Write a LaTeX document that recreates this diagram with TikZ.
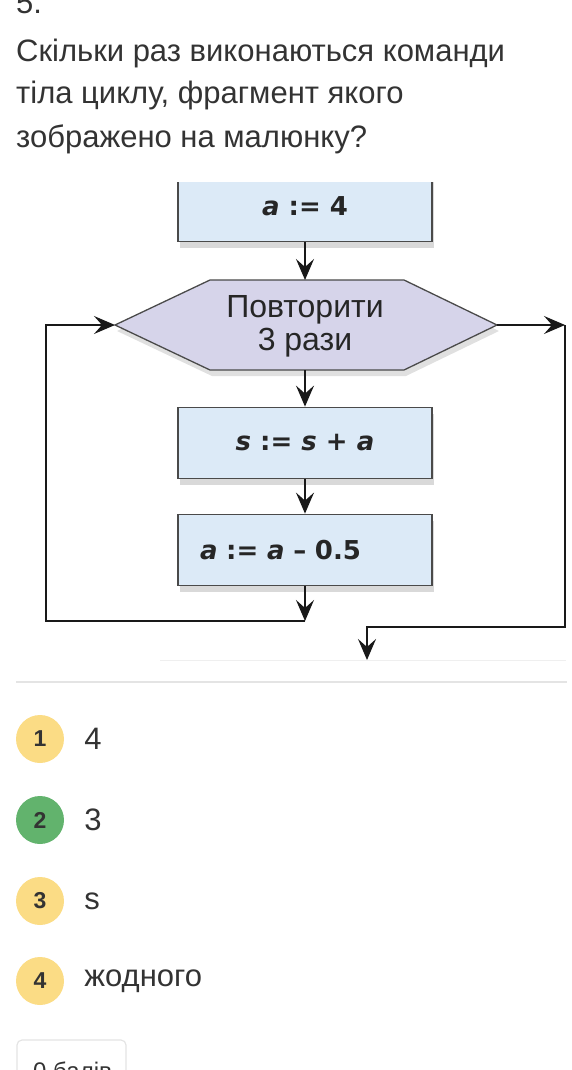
\documentclass[tikz,border=0pt]{standalone}
\usepackage{fontspec}
\setmainfont{Liberation Sans}
\newfontfamily\boxfont{DejaVu Sans}
\usetikzlibrary{arrows.meta,positioning,shadows}
\definecolor{txt}{HTML}{333333}
\definecolor{boxfill}{HTML}{DCEAF7}
\definecolor{hexfill}{HTML}{D6D4EA}
\definecolor{edge}{HTML}{4A4A4A}
\definecolor{ylw}{HTML}{FBDC85}
\definecolor{grn}{HTML}{62B36D}
\definecolor{rule}{HTML}{E4E4E4}

\begin{document}
\begin{tikzpicture}[x=1pt,y=-1pt,
  blk/.style={draw=edge,line width=1.8pt,fill=boxfill,minimum width=254pt,minimum height=71pt,
    inner sep=0pt,font=\boxfont\fontsize{26}{30}\selectfont\bfseries,text=black!85,
    drop shadow={shadow xshift=2pt,shadow yshift=-6pt,opacity=0.15,fill=black}},
  flow/.style={-{Stealth[length=21pt,width=18pt,inset=8pt]},line width=1.8pt,black!90},
  numdot/.style={circle,minimum size=48pt,inner sep=0pt,font=\fontsize{23}{26}\selectfont\bfseries,text=black!80},
  anstext/.style={font=\fontsize{31}{36}\selectfont,text=txt,inner sep=0pt},
  qtext/.style={anchor=base west,inner sep=0pt,font=\fontsize{31}{36}\selectfont,text=txt}]
\clip (0,0) rectangle (571,1070);

% question
\node[qtext] (qnum) at (16,14) {5.};
\node[qtext] (q1) at (16,62) {Скільки раз виконаються команди};
\node[qtext] (q2) at (16,104) {тіла циклу, фрагмент якого};
\node[qtext] (q3) at (16,147) {зображено на малюнку?};

% flowchart
\begin{scope}
\clip (0,182) rectangle (571,700);
\node[blk] (v1) at (305,206) {\textit{a} := 4};
\draw[draw=edge,line width=1.3pt,fill=hexfill,drop shadow={shadow xshift=2pt,shadow yshift=-6pt,opacity=0.12,fill=black}]
  (115,325) -- (210,280) -- (404,280) -- (497,325) -- (404,370) -- (210,370) -- cycle;
\coordinate (rep-n) at (305,280);
\coordinate (rep-s) at (305,370);
\coordinate (rep-w) at (115,325);
\coordinate (rep-e) at (497,325);
\node[align=center,font=\fontsize{32}{33}\selectfont,text=black!85] (rep) at (305,326) {Повторити\\3 рази};
\node[blk] (v2) at (305,443) {\textit{s} := \textit{s} + \textit{a}};
\node[blk,text width=210pt,inner xsep=22pt,align=left] (v3) at (305,550) {\textit{a} := \textit{a} – 0.5};

\coordinate (j1) at (305,621);
\coordinate (lp) at (46,325);
\coordinate (rp) at (565,325);
\coordinate (k1) at (367,627);
\coordinate (out) at (367,660);

\draw[flow] (v1) -- (rep-n);
\draw[flow] (rep-s) -- (v2);
\draw[flow] (v2) -- (v3);
\draw[flow] (v3) -- (j1);
\draw[flow] (j1) -| (lp) -- (rep-w);
\draw[flow] (rep-e) -- (rp);
\draw[flow] (rp) |- (k1) -- (out);
\draw[rule!60,line width=1pt] (160,660) -- (566,660);
\end{scope}
\draw[rule,line width=1.2pt] (16,682) -- (567,682);

% answers
\foreach \n/\yy/\col/\ans in {1/739/ylw/4, 2/820/grn/3, 3/901/ylw/s, 4/981/ylw/жодного}{
  \node[numdot,fill=\col] (n\n) at (40,\yy) {\n};
  \node[anstext,right=20pt of n\n] (a\n) {\ans};
}

% score button
\draw[rule,line width=1.2pt,rounded corners=5pt] (17,1040) rectangle (126,1100);
\node[qtext,font=\fontsize{24}{28}\selectfont] (btn) at (33,1079) {0 балів};
\end{tikzpicture}
\end{document}
